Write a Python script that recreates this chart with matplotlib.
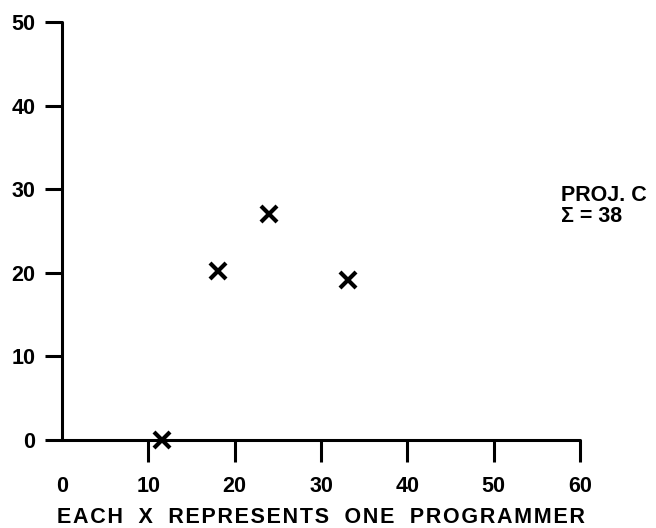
import matplotlib
matplotlib.use("Agg")
import matplotlib.pyplot as plt

# programmers (one X each)
x_vals = [11.6, 18.1, 24.0, 33.1]
y_vals = [0.0, 20.2, 27.0, 19.1]
x_ticks = [0, 10, 20, 30, 40, 50, 60]
y_ticks = [0, 10, 20, 30, 40, 50]
x_label = 'EACH X REPRESENTS ONE PROGRAMMER'

plt.rcParams['font.family'] = ['Liberation Sans', 'DejaVu Sans']
plt.rcParams['font.weight'] = 'bold'

fig = plt.figure(figsize=(6.56, 5.28), dpi=100)
ax = fig.add_axes([62/656, 88/528, 518/656, 418/528])

ax.plot(x_vals, y_vals, linestyle='none', marker='x', color='black',
        markersize=11.5, markeredgewidth=3, clip_on=False, zorder=5)

ax.set_xlim(0, 60)
ax.set_ylim(0, 50)
ax.set_xticks(x_ticks)
ax.set_yticks(y_ticks)
ax.set_xticklabels([str(v) for v in x_ticks], fontsize=15.5, fontweight='bold')
ax.set_yticklabels([str(v) for v in y_ticks], fontsize=15.5, fontweight='bold')

for s in ['top', 'right']:
    ax.spines[s].set_visible(False)
for s in ['left', 'bottom']:
    ax.spines[s].set_linewidth(2.2)
    ax.spines[s].set_capstyle('round')

ax.tick_params(axis='x', direction='out', length=16, width=2.2, pad=10)
ax.tick_params(axis='y', direction='out', length=12, width=2.2, pad=7)
ax.xaxis.get_major_ticks()[0].tick1line.set_visible(False)

# wide letter and word spacing like the typed original
spaced = '\u200a'.join(x_label).replace(' ', '  ')
ax.set_xlabel(spaced, fontsize=15.5, fontweight='bold', labelpad=7)

fig.text(561/656, 1 - 195/528, 'PROJ. C', fontsize=15.5, fontweight='bold',
         va='center', ha='left')
fig.text(561/656, 1 - 216/528, '\u03a3 = 38', fontsize=15.5, fontweight='bold',
         va='center', ha='left')

fig.savefig('out.png', dpi=100)
